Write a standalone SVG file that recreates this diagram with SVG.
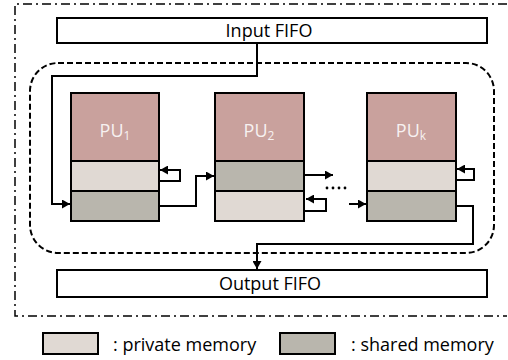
<svg xmlns="http://www.w3.org/2000/svg" width="508" height="360" viewBox="0 0 508 360">
<style>
  .box{stroke:#000;stroke-width:2}
  .fifo{fill:#fff;stroke:#000;stroke-width:2}
  .pu{fill:#C9A19D}
  .priv{fill:#E0D9D3}
  .shar{fill:#B9B6AD}
  .lbl{font-family:"Open Sans","Liberation Sans",sans-serif;font-size:18px;fill:#000}
  .pul{font-family:"Open Sans","Liberation Sans",sans-serif;font-size:18px;fill:#F7F1F1}
  .conn{fill:none;stroke:#000;stroke-width:2}
</style>
<defs>
  <marker id="arr" markerUnits="userSpaceOnUse" markerWidth="9" markerHeight="9" refX="8" refY="4.5" orient="auto">
    <path d="M0,0 L8,4.5 L0,9 z" fill="#000"/>
  </marker>
</defs>
<rect width="508" height="360" fill="#fff"/>
<path d="M507,4 H15 V316 H507" fill="none" stroke="#000" stroke-width="1.5" stroke-dasharray="9,4,2,4"/>
<rect x="30" y="63" width="464" height="190" rx="28" fill="none" stroke="#000" stroke-width="2" stroke-dasharray="6,3"/>

<g id="input-fifo">
  <rect class="fifo" x="57" y="18" width="430" height="25"/>
  <text class="lbl" x="269" y="37" text-anchor="middle">Input FIFO</text>
</g>
<g id="output-fifo">
  <rect class="fifo" x="57" y="270" width="430" height="27"/>
  <text class="lbl" x="270" y="290" text-anchor="middle">Output FIFO</text>
</g>

<g id="pu1">
  <rect class="pu box" x="71" y="93" width="88" height="68"/>
  <rect class="priv box" x="71" y="161" width="88" height="30"/>
  <rect class="shar box" x="71" y="191" width="88" height="30"/>
  <text class="pul" x="115" y="137" text-anchor="middle">PU<tspan font-size="12" dy="3">1</tspan></text>
</g>
<g id="pu2">
  <rect class="pu box" x="215" y="93" width="89" height="68"/>
  <rect class="shar box" x="215" y="161" width="89" height="30"/>
  <rect class="priv box" x="215" y="191" width="89" height="30"/>
  <text class="pul" x="259" y="137" text-anchor="middle">PU<tspan font-size="12" dy="3">2</tspan></text>
</g>
<g id="puk">
  <rect class="pu box" x="367" y="93" width="89" height="68"/>
  <rect class="priv box" x="367" y="161" width="89" height="30"/>
  <rect class="shar box" x="367" y="191" width="89" height="30"/>
  <text class="pul" x="411" y="137" text-anchor="middle">PU<tspan font-size="12" dy="3">k</tspan></text>
</g>

<g id="connectors">
  <path class="conn" d="M257,43 V76 H52 V204 H70" marker-end="url(#arr)"/>
  <path class="conn" d="M160,181 H180 V170 H160" marker-end="url(#arr)"/>
  <path class="conn" d="M160,206 H196 V176 H214" marker-end="url(#arr)"/>
  <path class="conn" d="M305,175 H333" marker-end="url(#arr)"/>
  <path class="conn" d="M305,211 H326 V199 H306" marker-end="url(#arr)"/>
  <path class="conn" d="M349,204 H366" marker-end="url(#arr)"/>
  <path class="conn" d="M457,180 H474 V169 H457" marker-end="url(#arr)"/>
  <path class="conn" d="M457,206 H473 V244 H257 V269" marker-end="url(#arr)"/>
  <g fill="#000">
    <circle cx="327" cy="188" r="1.4"/>
    <circle cx="333" cy="188" r="1.4"/>
    <circle cx="339" cy="188" r="1.4"/>
    <circle cx="345" cy="188" r="1.4"/>
  </g>
</g>

<g id="legend">
  <rect class="priv box" x="43" y="333" width="55" height="21"/>
  <text class="lbl" x="113" y="351">: private memory</text>
  <rect class="shar box" x="280" y="333" width="55" height="21"/>
  <text class="lbl" x="351" y="351">: shared memory</text>
</g>
</svg>
